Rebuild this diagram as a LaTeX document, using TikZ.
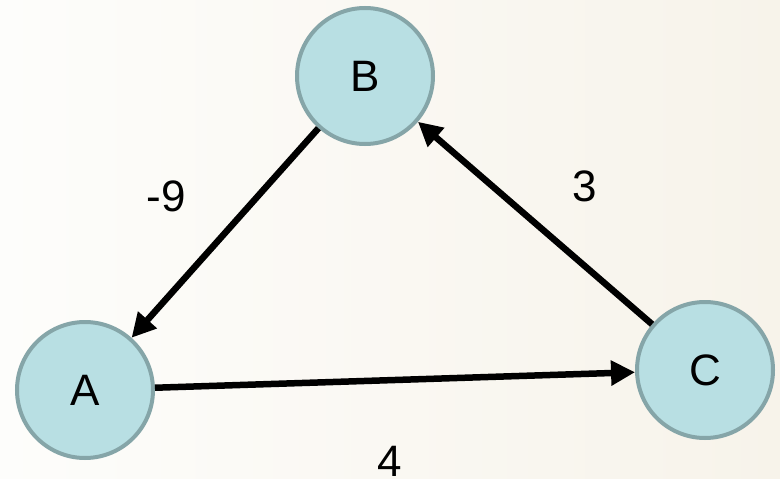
\documentclass[tikz,border=0pt]{standalone}
\usepackage{fontspec}
\setmainfont{Liberation Sans}
\usetikzlibrary{arrows.meta}
\definecolor{bgL}{HTML}{FDFDFB}
\definecolor{bgR}{HTML}{F7F3EA}
\definecolor{nodefill}{HTML}{B8DFE3}
\definecolor{nodeedge}{HTML}{85A5A8}
\tikzset{
  vertex/.style={circle, draw=nodeedge, fill=nodefill, line width=4pt, minimum size=136pt, inner sep=0pt, font=\fontsize{44}{48}\selectfont},
  edge/.style={line width=6.5pt, -{Triangle[length=24pt,width=24pt]}},
  wlabel/.style={font=\fontsize{44}{48}\selectfont, inner sep=0pt}
}
\begin{document}
\begin{tikzpicture}[x=1pt,y=-1pt]
\shade[left color=bgL, right color=bgR] (0,0) rectangle (780,479);
\useasboundingbox (0,0) rectangle (780,479);
\node[vertex] (B) at (365,76) {B};
\node[vertex] (A) at (85,390) {A};
\node[vertex] (C) at (705,370) {C};
\draw[edge] (B) -- (A);
\draw[edge] (C) -- (B);
\draw[edge] (A) -- (C);
\node[wlabel] (l9) at (166,196) {-9};
\node[wlabel] (l3) at (585,186) {3};
\node[wlabel] (l4) at (390,461) {4};
\end{tikzpicture}
\end{document}
